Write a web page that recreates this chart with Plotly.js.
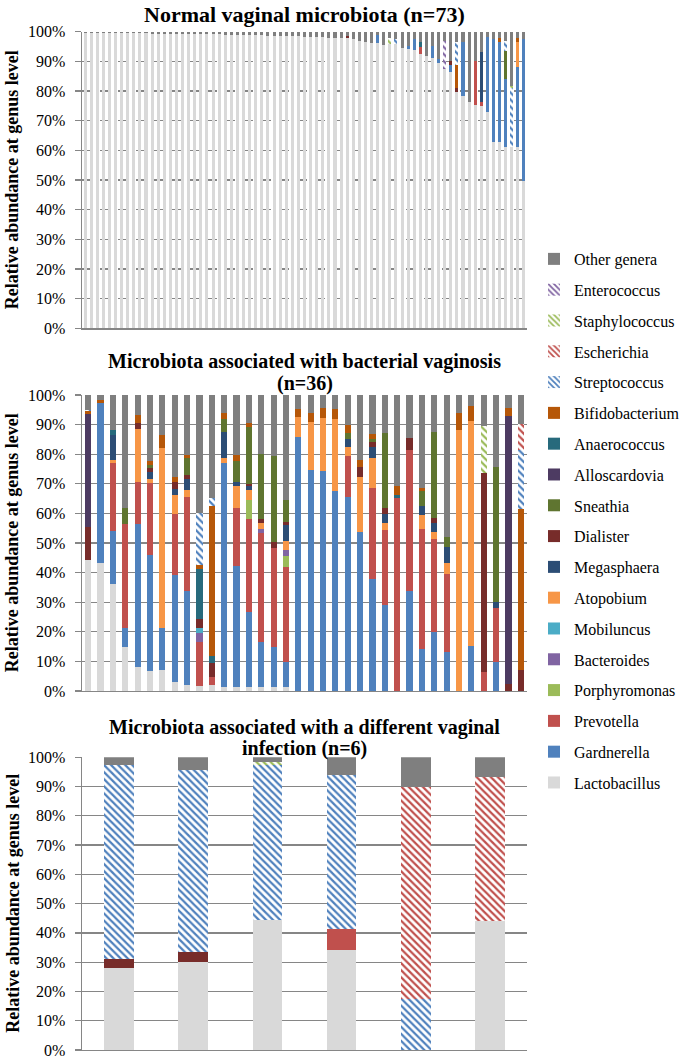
<!DOCTYPE html>
<html>
<head>
<meta charset="utf-8">
<script src="https://cdn.plot.ly/plotly-3.0.1.min.js"></script>
<style>html,body{margin:0;padding:0;background:#fff;}#chart{width:685px;height:1059px;}</style>
</head>
<body>
<div id="chart"></div>
<script>
// ---------- genera (stacking order, bottom -> top) ----------
const genera = ["Lactobacillus","Gardnerella","Prevotella","Porphyromonas","Bacteroides","Mobiluncus","Atopobium","Megasphaera","Dialister","Sneathia","Alloscardovia","Anaerococcus","Bifidobacterium","Streptococcus","Escherichia","Staphylococcus","Enterococcus","Other genera"];
const generaColors = ["#D9D9D9","#4F81BD","#C0504D","#9BBB59","#8064A2","#4BACC6","#F79646","#2C4D75","#772C2A","#5F7530","#4D3B62","#276A7C","#B65708","#4F81BD","#C0504D","#9BBB59","#8064A2","#7F7F7F"];
const generaHatched = ["Streptococcus","Escherichia","Staphylococcus","Enterococcus"];

// ---------- panel titles (one entry per line) ----------
const panelTitles = [
  ["Normal vaginal microbiota (n=73)"],
  ["Microbiota associated with bacterial vaginosis","(n=36)"],
  ["Microbiota associated with a different vaginal","infection (n=6)"]
];
const yTitle = "Relative abundance at genus level";

// ---------- Panel 1: normal vaginal microbiota (n=73), % ----------
const nvLactobacillus = [99.7,99.7,99.6,99.6,99.6,99.6,99.5,99.5,99.5,99.5,
 99.5,99.4,99.4,99.4,99.4,99.3,99.3,99.3,99.2,99.2,
 99.2,99.1,99.1,99.0,99.0,99.0,98.9,98.9,98.8,98.8,
 98.7,98.7,98.6,98.6,98.5,98.5,98.4,98.3,98.2,98.1,
 98.0,97.9,97.8,97.8,97.5,97.0,96.6,96.2,96.2,95.6,
 95.8,95.8,94.4,94.2,93.9,92.5,91.7,91.3,89.4,87.4,
 86.6,79.6,78.4,76.2,75.4,75.1,72.8,62.9,62.7,61.3,
 61.0,61.0,49.8];
const nvGardnerella = [0,0,0,0,0,0,0,0,0,0, 0,0,0,0,0,0,0,0,0,0, 0,0,0,0,0,0,0,0,0,0, 0,0,0,0,0,0,0,0,0,0,
 0,0,0,0,0,0,0,0,2.7,0, 0,0,0,1.1,3.6,0,0,3.8,1.4,0, 2.2,0,18,0,0,0,25.3,34.6,33.9,22.7, 0,27,47.7];
const nvPrevotella = [0,0,0,0,0,0,0,0,0,0, 0,0,0,0,0,0,0,0,0,0, 0,0,0,0,0,0,0,0,0,0, 0,0,0,0,0,0,0,0,0,0,
 0,0,0,0,0,0,0,0,0,0, 0,0,0,0,0,2.2,0,0,0,0, 0,0,0,0,14.8,1.3,0,0,0,0, 0,0,0];
const nvAnaerococcus = [0,0,0,0,0,0,0,0,0,0, 0,0,0,0,0,0,0,0,0,0, 0,0,0,0,0,0,0,0,0,0, 0,0,0,0,0,0,0,0,0,0,
 0,0,0,0,0,0,0,0,0,0, 0,0,0,0,0,1.9,0,0,0,0, 0,0,0,0,0,0,0,0,0,0, 0,0,0];
const nvDialister = [0,0,0,0,0,0,0,0,0,0, 0,0,0,0,0,0,0,0,0,0, 0,0,0,0,0,0,0,0,0,0, 0,0,0,0,0,0,0,0,0,0,
 0,0,0,0.9,0,0,0,0,0,0, 0,0,0,0,0,0,0,0,0,0, 1.4,1.6,0,0,0,0,0,0,0,0, 0,0,0];
const nvMegasphaera = [0,0,0,0,0,0,0,0,0,0, 0,0,0,0,0,0,0,0,0,0, 0,0,0,0,0,0,0,0,0,0, 0,0,0,0,0,0,0,0,0,0,
 0,0,0,0,0,0,0,0,0,0, 0,0,0,0,0,0,0,0,0,0, 0,0,0,0,0,16.9,0,0,0,0, 0,0,0];
const nvSneathia = [0,0,0,0,0,0,0,0,0,0, 0,0,0,0,0,0,0,0,0,0, 0,0,0,0,0,0,0,0,0,0, 0,0,0,0,0,0,0,0,0,0,
 0,0,0,0,0,0,0,0,0,0, 0,0,0,0,0,0,0,0,0,0, 0,0,0,0,0,0,0,0,0,9.6, 0,0,0];
const nvAtopobium = [0,0,0,0,0,0,0,0,0,0, 0,0,0,0,0,0,0,0,0,0, 0,0,0,0,0,0,0,0,0,0, 0,0,0,0,0,0,0,0,0,0,
 0,0,0,0,0,0,0,0,0,0, 0,0,0,0,0,0,0,0,0,0, 0,0,0,0,0,0,0,0,0,0, 0,8.6,0];
const nvBifidobacterium = [0,0,0,0,0,0,0,0,0,0, 0,0,0,0,0,0,0,0,0,0, 0,0,0,0,0,0,0,0,0,0, 0,0,0,0,0,0,0,0,0,0,
 0,0,0,0,0,0,0,0,0,0, 0,0,0,0,0,0,0,0,0,0, 0,7.6,0,0,0,0,0,0,1.2,0, 0,1.2,0];
const nvStreptococcus = [0,0,0,0,0,0,0,0,0,0, 0,0,0,0,0,0,0,0,0,0, 0,0,0,0,0,0,0,0,0,0, 0,0,0,0,0,0,0,0,0,0,
 0,0,0,0,0,0,0,0,0,0, 0,1.7,0,0,0,0,0,0,0,0, 0,7.6,0,0,0,0,0,0,0,3.4, 19.9,0,0];
const nvStaphylococcus = [0,0,0,0,0,0,0,0,0,0, 0,0,0,0,0,0,0,0,0,0, 0,0,0,0,0,0,0,0,0,0, 0,0,0,0,0,0,0,0,0,0,
 0,0,0,0,0,0,0,0,0,0, 2.0,0,0,0,0,0,0,0,0,0, 0,0,0,0,0,0,0,0,0,0, 0.9,0,0];
const nvEnterococcus = [0,0,0,0,0,0,0,0,0,0, 0,0,0,0,0,0,0,0,0,0, 0,0,0,0,0,0,0,0,0,0, 0,0,0,0,0,0,0,0,0,0,
 0,0,0,0,0,0,0,0,0,0, 0,0,0,0,0,0,0,0,0,9.6, 0,0,0,0,0,0,0,0,0,0, 0,0,0];
const nvOther = [0.3,0.3,0.4,0.4,0.4,0.4,0.5,0.5,0.5,0.5,
 0.5,0.6,0.6,0.6,0.6,0.7,0.7,0.7,0.8,0.8,
 0.8,0.9,0.9,1.0,1.0,1.0,1.1,1.1,1.2,1.2,
 1.3,1.3,1.4,1.4,1.5,1.5,1.6,1.7,1.8,1.9,
 2.0,2.1,2.2,1.3,2.5,3.0,3.4,3.8,1.1,4.4,
 2.2,2.5,5.6,4.7,2.5,3.4,8.3,4.9,9.2,3.0,
 9.8,3.6,3.6,23.8,9.8,6.7,1.9,2.5,2.2,3.0,
 18.2,2.2,2.5];

// ---------- Panel 2: bacterial vaginosis (n=36), % ----------
const bvLactobacillus = [44.3,43.4,36.1,15,8,6.9,7.1,3.2,2,1.7,2,1.5,1.5,1.2,1.2,1.2,1.2,0,0,0,0,0,0,0,0,0,0,0,0,0,0,0,0,0,0,0];
const bvGardnerella = [0,53.8,18.1,6.2,48.4,39,14.1,36,31.9,0,0,75.6,40.7,25.6,15.5,13.6,8.7,85.9,74.7,74.4,67.7,65.4,53.8,37.8,29.1,0,33.8,14.2,20,13.3,0,15.3,0,9.9,0,0];
const bvPrevotella = [0,0,22.7,35.2,14.3,24.3,0,20.6,31.8,15,2.8,0,19.5,31.2,36.6,33.4,32.1,0,0,0,0,14,0,30.9,25.3,65.3,47.6,40.5,31.2,26.2,0,0,6.5,18,0,0];
const bvPorphyromonas = [0,0,0,0,0,0,0,0,0,0,0,0,0,6.5,0,0,3.6,0,0,0,0,0,0,0,0,0,0,0,0,0,0,0,0,0,0,0];
const bvBacteroides = [0,0,0,0,0,0,0,0,0,2.8,0,0,0,0,1.3,0,2,0,0,0,0,0,0,0,0,0,0,0,0,0,0,0,0,0,0,0];
const bvMobiluncus = [0,0,0,0,0,0,0,0,0,1.7,0,0,0,0,0,0,0,0,0,0,0,0,0,0,0,0,0,0,0,0,0,0,0,0,0,0];
const bvAtopobium = [0,0,1.1,0,17.8,1.4,60.8,6.4,2.2,0,0,1.5,7.6,3.4,2,0,3.2,6.6,16.3,17.9,24.1,3.1,18.6,9.9,2.2,0,0,4.8,2.6,3.6,88.2,76,0,0,0,0];
const bvMegasphaera = [0,0,8.5,0,0,2.3,0,1.9,3.6,0,0,9,1.4,1.4,0,0,5.3,0,0,0,0,2.5,0,3.7,3.2,0,0,3.1,2.8,5.7,0,0,0,2.3,0,0];
const bvDialister = [11.2,0,0,0,1.9,1.3,0,2.6,1.5,3,4.8,0,0,0.6,1.4,2.3,1.1,0,0,0,0,0,3.2,1.7,1.9,0,4,0,1.7,0,0,0,67.3,0,2.5,7.1];
const bvSneathia = [0,0,0,5.3,0,1.2,0,0,5.8,0,0,4.2,7.1,19.4,22.1,28.9,7.3,0,0,0,0,2,0,1,25.3,0,0,5,29.3,3.3,0,0,0,45.6,0,0];
const bvAlloscardovia = [38.1,0,0,0,0,0,0,0,0,0,0,0,0,0,0,0,0,0,0,0,0,0,0,0,0,0,0,0,0,0,0,0,0,0,90.4,0];
const bvAnaerococcus = [0,0,1.7,0,0,0,0,0,0,16.9,2.2,0,0,0,0,0,0,0,0,0,0,0,0,0,0,0.9,0,0,0,0,0,0,0,0,0,0];
const bvBifidobacterium = [1.0,1.1,0,0,2.8,1.3,4.5,1.7,0.9,1.5,50.7,2,1.9,1.1,0,0,0,2.7,2.8,3.2,3.4,2.9,2.4,1.8,0,3.1,0,1.1,0,0,5.6,5,0,0,2.6,54.3];
const bvStreptococcus = [0.5,0,0,0,0,0,0,0,0,17.4,2.6,0,0,0,0,0,0,0,0,0,0,0,0,0,0,0,0,0,0,0,0,0,0,0,0,20];
const bvEscherichia = [0,0,0,0,0,0,0,0,0,0,0,0,0,0,0,0,0,0,0,0,0,0,0,0,0,0,0,0,0,0,0,0,0,0,0,8.8];
const bvStaphylococcus = [0,0,0,0,0,0,0,0,0,0,0,0,0,0,0,0,0,0,0,0,0,0,0,0,0,0,0,0,0,0,0,0,15.7,0,0,0];
const bvEnterococcus = [0,0,0,0,0,0,0,0,0,0,0,0,0,0,0,0,0,0,0,0,0,0,0,0,0,0,0,0,0,0,0,0,0,0,0,0];
const bvOther = [4.9,1.7,11.8,38.3,6.8,22.3,13.5,27.6,20.3,40,34.9,6.2,20.3,9.6,19.9,20.6,35.5,4.8,6.2,4.5,4.8,10.1,22,13.2,13,30.7,14.6,31.3,12.4,47.9,6.2,3.7,10.5,24.2,4.5,9.8];

// ---------- Panel 3: different vaginal infection (n=6), % ----------
const viLactobacillus = [28,30.2,44.3,34.1,0,43.9];
const viPrevotella = [0,0,0,7.2,0,0];
const viDialister = [3.1,3.1,0,0,0,0];
const viStreptococcus = [66.3,62.3,53.1,52.5,17.5,0];
const viEscherichia = [0,0,0,0,72.3,49.2];
const viStaphylococcus = [0,0,1.1,0,0,0];
const viOther = [2.6,4.4,1.5,6.2,10.2,6.9];

// ---------- assemble ----------
function zeros(n){ return new Array(n).fill(0); }
const H = 1059;
const panels = [
  {n:73, width:0.5, dash:"dash", dom:[0.6900,0.9700], titleY:[14], titleSize:22, data:{
    "Lactobacillus":nvLactobacillus,"Gardnerella":nvGardnerella,"Prevotella":nvPrevotella,"Anaerococcus":nvAnaerococcus,
    "Dialister":nvDialister,"Megasphaera":nvMegasphaera,"Sneathia":nvSneathia,"Atopobium":nvAtopobium,
    "Bifidobacterium":nvBifidobacterium,"Streptococcus":nvStreptococcus,"Staphylococcus":nvStaphylococcus,
    "Enterococcus":nvEnterococcus,"Other genera":nvOther}},
  {n:36, width:0.5, dash:"solid", dom:[0.3475,0.6270], titleY:[362,383], titleSize:20, data:{
    "Lactobacillus":bvLactobacillus,"Gardnerella":bvGardnerella,"Prevotella":bvPrevotella,"Porphyromonas":bvPorphyromonas,
    "Bacteroides":bvBacteroides,"Mobiluncus":bvMobiluncus,"Atopobium":bvAtopobium,"Megasphaera":bvMegasphaera,
    "Dialister":bvDialister,"Sneathia":bvSneathia,"Alloscardovia":bvAlloscardovia,"Anaerococcus":bvAnaerococcus,
    "Bifidobacterium":bvBifidobacterium,"Streptococcus":bvStreptococcus,"Escherichia":bvEscherichia,
    "Staphylococcus":bvStaphylococcus,"Enterococcus":bvEnterococcus,"Other genera":bvOther}},
  {n:6, width:0.4, dash:"solid", dom:[0.0085,0.2850], titleY:[727,748], titleSize:20, data:{
    "Lactobacillus":viLactobacillus,"Prevotella":viPrevotella,"Dialister":viDialister,"Streptococcus":viStreptococcus,
    "Escherichia":viEscherichia,"Staphylococcus":viStaphylococcus,"Other genera":viOther}}
];

const serif = "Liberation Serif";
const gridCol = "#868686";
const traces = [];
const layout = {
  width:685, height:H,
  margin:{l:82, r:157, t:0, b:0},
  paper_bgcolor:"#ffffff", plot_bgcolor:"#ffffff",
  barmode:"stack",
  showlegend:true,
  font:{family:serif, color:"#000"},
  legend:{x:1.016, xanchor:"left", y:0.7715, yanchor:"top", traceorder:"grouped", tracegroupgap:7,
          font:{family:serif, size:16, color:"#000"}, bgcolor:"rgba(0,0,0,0)", itemwidth:30},
  annotations:[]
};

panels.forEach((p, pi) => {
  const ax = pi === 0 ? "" : String(pi+1);
  const cats = Array.from({length:p.n}, (_, i) => i);
  genera.forEach((g, gi) => {
    const hatched = generaHatched.indexOf(g) >= 0;
    const marker = {color: hatched ? "#ffffff" : generaColors[gi], line:{width:0}};
    if (hatched) marker.pattern = {shape:"\\", fgcolor:generaColors[gi], bgcolor:"#ffffff", size:5, solidity:0.45, fillmode:"replace"};
    traces.push({
      type:"bar", name:g, x:cats, y:p.data[g] || zeros(p.n), width:p.width,
      xaxis:"x"+ax, yaxis:"y"+ax, marker:marker,
      legendgroup:g, legendrank: genera.length - gi, showlegend: pi === 0, hoverinfo:"name+y"
    });
  });
  layout["xaxis"+ax] = {domain:[0,1], anchor:"y"+ax, range:[-0.5, p.n-0.5], showticklabels:false, ticks:"",
    showgrid:false, zeroline:false, showline:true, linecolor:gridCol, linewidth:1.5, fixedrange:true};
  layout["yaxis"+ax] = {domain:p.dom, anchor:"x"+ax, range:[0,100], dtick:10, ticksuffix:"%",
    showgrid:true, gridcolor:gridCol, gridwidth:1.3, griddash:p.dash, zeroline:false,
    showline:true, linecolor:gridCol, linewidth:1.5, ticks:"outside", ticklen:6, tickcolor:gridCol, tickwidth:1.3,
    ticklabeloverflow:"allow", ticklabelstandoff:6,
    tickfont:{family:serif, size:16, color:"#000"}, fixedrange:true};
  // panel title lines
  panelTitles[pi].forEach((line, li) => {
    layout.annotations.push({xref:"x"+ax+" domain", yref:"paper", x:0.5, y:1 - p.titleY[li]/H, yanchor:"middle", xanchor:"center",
      text:"<b>"+line+"</b>", showarrow:false, font:{family:serif, size:p.titleSize, color:"#000"}});
  });
  // y-axis title
  layout.annotations.push({xref:"paper", yref:"paper", x:(12-82)/446, y:(p.dom[0]+p.dom[1])/2, xanchor:"center", yanchor:"middle",
    textangle:-90, text:"<b>"+yTitle+"</b>", showarrow:false, font:{family:serif, size:18, color:"#000"}});
});

Plotly.newPlot("chart", traces, layout, {displayModeBar:false, staticPlot:true});
</script>
</body>
</html>
